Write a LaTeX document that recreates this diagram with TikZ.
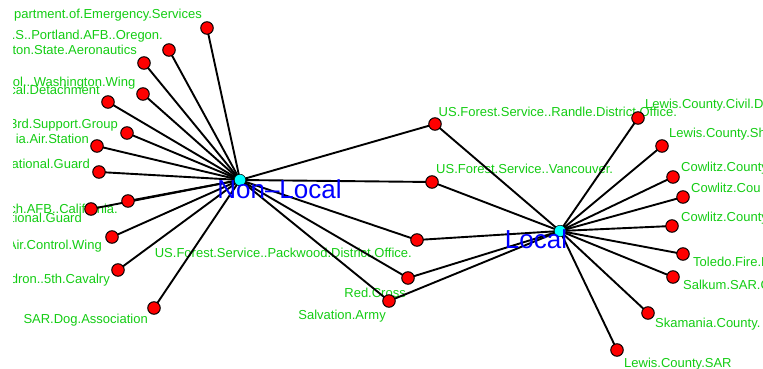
\documentclass[tikz,border=0pt]{standalone}
\usepackage{fontspec}
\setmainfont{Liberation Sans}
\definecolor{lblgreen}{RGB}{20,205,20}
\definecolor{hubcyan}{RGB}{0,255,255}
\definecolor{vred}{RGB}{255,0,0}
\definecolor{hubblue}{RGB}{0,0,255}
\begin{document}
\begin{tikzpicture}[x=1pt,y=-1pt,
  vert/.style={circle,draw=black,line width=1pt,fill=vred,minimum size=12.5pt,inner sep=0pt},
  hub/.style={circle,draw=black,line width=0.5pt,fill=hubcyan,minimum size=11.5pt,inner sep=0pt},
  lbl/.style={text=lblgreen,font=\fontsize{13}{15}\selectfont,inner sep=0pt},
  lleft/.style={lbl,anchor=base east},
  lright/.style={lbl,anchor=base west},
  hublbl/.style={text=hubblue,font=\fontsize{26}{29}\selectfont,inner sep=0pt,anchor=base},
  edge/.style={line width=1.9pt,black}]
\useasboundingbox (0,0) rectangle (763,369);
\fill[white] (0,0) rectangle (763,369);
% coordinates of vertices
\coordinate (NL) at (240,180);
\coordinate (LO) at (560,231);
\coordinate (a1) at (207,28);
\coordinate (a2) at (169,50);
\coordinate (a3) at (144,63);
\coordinate (a4) at (143,94);
\coordinate (a5) at (108,102);
\coordinate (a6) at (127,133);
\coordinate (a7) at (97,146);
\coordinate (a8) at (99,172);
\coordinate (a9) at (128,201);
\coordinate (a10) at (91,209);
\coordinate (a11) at (112,237);
\coordinate (a12) at (118,270);
\coordinate (a13) at (154,308);
\coordinate (m1) at (435,124);
\coordinate (m2) at (432,182);
\coordinate (m3) at (417,240);
\coordinate (m4) at (408,278);
\coordinate (m5) at (389,301);
\coordinate (b1) at (638,118);
\coordinate (b2) at (662,146);
\coordinate (b3) at (673,177);
\coordinate (b4) at (683,197);
\coordinate (b5) at (672,226);
\coordinate (b6) at (683,254);
\coordinate (b7) at (673,277);
\coordinate (b8) at (648,313);
\coordinate (b9) at (617,350);
% labels (clipped as in the plot region)
\begin{scope}
\clip (13,0) rectangle (763,369);
\node[lleft] (t1) at (202,18.5) {partment.of.Emergency.Services};
\node[lleft] (t2) at (163,40) {.S..Portland.AFB..Oregon.};
\node[lleft] (t3) at (137,54.5) {ton.State.Aeronautics};
\node[lleft] (t4) at (135.5,86) {ol...Washington.Wing};
\node[lleft] (t5) at (100,95) {cal.Detachment};
\node[lleft] (t6) at (118,128) {3rd.Support.Group};
\node[lleft] (t7) at (89,143) {ia.Air.Station};
\node[lleft] (t8) at (90,168) {ational.Guard};
\node[lleft] (t9) at (118,213) {ch.AFB..California.};
\node[lleft] (t10) at (82,222) {tional.Guard};
\node[lleft] (t11) at (102,249) {Air.Control.Wing};
\node[lleft] (t12) at (110,283.5) {dron..5th.Cavalry};
\node[lleft] (t13) at (148,323) {SAR.Dog.Association};
\node[lright] (u1) at (438.5,116) {US.Forest.Service..Randle.District.Office.};
\node[lright] (u2) at (436,173) {US.Forest.Service..Vancouver.};
\node[lleft] (u3) at (412,257) {US.Forest.Service..Packwood.District.Office.};
\node[lleft] (u4) at (406,297) {Red.Cross};
\node[lleft] (u5) at (386,319.5) {Salvation.Army};
\node[lright] (v1) at (645,108) {Lewis.County.Civil.D};
\node[lright] (v2) at (669,137) {Lewis.County.Sh};
\node[lright] (v3) at (681,171) {Cowlitz.County};
\node[lright] (v4) at (691,192) {Cowlitz.Cou};
\node[lright] (v5) at (681,221) {Cowlitz.County};
\node[lright] (v6) at (693,266) {Toledo.Fire.D};
\node[lright] (v7) at (683,289) {Salkum.SAR.C};
\node[lright] (v8) at (655,327) {Skamania.County.};
\node[lright] (v9) at (624,367) {Lewis.County.SAR};
\end{scope}
% edges
\foreach \n in {a1,a2,a3,a4,a5,a6,a7,a8,a9,a10,a11,a12,a13,m1,m2,m3,m4,m5}
  \draw[edge] (NL) -- (\n);
\foreach \n in {m1,m2,m3,m4,m5,b1,b2,b3,b4,b5,b6,b7,b8,b9}
  \draw[edge] (LO) -- (\n);
% vertices
\foreach \n in {a1,a2,a3,a4,a5,a6,a7,a8,a9,a10,a11,a12,a13,m1,m2,m3,m4,m5,b1,b2,b3,b4,b5,b6,b7,b8,b9}
  \node[vert] (n\n) at (\n) {};
\node[hub] (hNL) at (NL) {};
\node[hub] (hLO) at (LO) {};
% hub labels
\node[hublbl] (lNL) at (279.5,198) {Non--Local};
\node[hublbl] (lLO) at (536,248) {Local};
\end{tikzpicture}
\end{document}
